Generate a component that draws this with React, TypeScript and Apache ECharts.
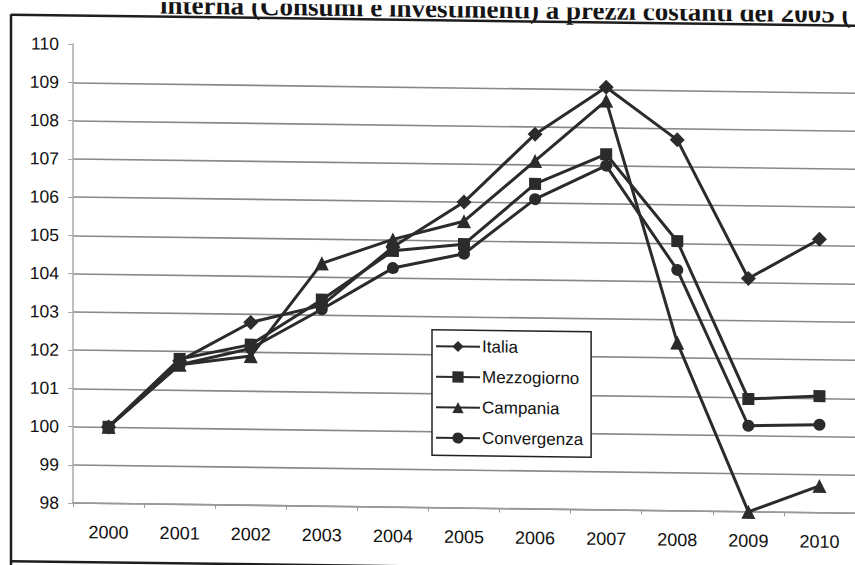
import React, { useEffect, useRef } from "react";
import * as echarts from "echarts";

const years = ["2000", "2001", "2002", "2003", "2004", "2005", "2006", "2007", "2008", "2009", "2010"];
const italia = [100, 101.75, 102.78, 103.25, 104.8, 106.0, 107.8, 109.05, 107.7, 104.1, 105.15];
const mezzogiorno = [100, 101.8, 102.2, 103.4, 104.7, 104.9, 106.5, 107.3, 105.05, 100.95, 101.05];
const campania = [100, 101.65, 101.9, 104.35, 105.0, 105.5, 107.1, 108.7, 102.4, 98.0, 98.7];
const convergenza = [100, 101.65, 102.1, 103.15, 104.25, 104.65, 106.1, 107.0, 104.3, 100.25, 100.3];
const seriesNames = ["Italia", "Mezzogiorno", "Campania", "Convergenza"];
const seriesSymbols = ["diamond", "rect", "triangle", "circle"];
const titleLeft = "interna";
const titleRight = "(Consumi e investimenti) a prezzi costanti del 2005 (";

export default function App() {
  const ref = useRef<HTMLDivElement>(null);
  useEffect(() => {
    if (!ref.current) return;
    const chart = echarts.init(ref.current, null, { renderer: "svg" });
    const dataSets = [italia, mezzogiorno, campania, convergenza];
    const symbolSizes = [15, 12, 14, 12];
    const ink = "#2b2b2b";
    const gridColors: string[] = [];
    for (let i = 0; i < 13; i++) gridColors.push(i === 12 ? "transparent" : "#888888");
    chart.setOption({
      animation: false,
      backgroundColor: "#ffffff",
      textStyle: { fontFamily: "Liberation Sans, Arial, sans-serif" },
      grid: { left: 73, top: 43, width: 793, height: 459, containLabel: false },
      legend: {
        orient: "vertical",
        left: 432,
        top: 324,
        data: seriesNames,
        backgroundColor: "#ffffff",
        borderColor: "#222",
        borderWidth: 1.5,
        borderRadius: 0,
        padding: [8, 8, 9, 3],
        itemGap: 13.5,
        itemWidth: 44,
        itemHeight: 14,
        textStyle: { fontSize: 17, color: "#111", padding: [0, 0, 0, -3] },
      },
      xAxis: {
        type: "category",
        data: years,
        boundaryGap: true,
        axisLine: { lineStyle: { color: "#999", width: 1.5 } },
        axisTick: { show: true, length: 4, lineStyle: { color: "#999" } },
        axisLabel: { fontSize: 18, color: "#111", margin: 20 },
        splitLine: { show: false },
      },
      yAxis: {
        type: "value",
        min: 98,
        max: 110,
        interval: 1,
        axisLine: { show: true, lineStyle: { color: "#aaa", width: 1.5 } },
        axisTick: { show: true, length: 5, lineStyle: { color: "#aaa" } },
        axisLabel: { fontSize: 17.5, color: "#111", margin: 14 },
        splitLine: { show: true, lineStyle: { color: gridColors, width: 1.6 } },
      },
      series: seriesNames.map((name, i) => ({
        name,
        type: "line",
        data: dataSets[i],
        symbol: seriesSymbols[i],
        symbolSize: symbolSizes[i],
        clip: false,
        lineStyle: { color: ink, width: 3 },
        itemStyle: { color: ink },
        z: 10 - i,
      })),
      graphic: [
        {
          type: "text",
          x: 244,
          y: 16,
          style: {
            text: titleLeft,
            font: 'bold 27px "Liberation Serif", serif',
            fill: "#151515",
            textAlign: "right",
            textVerticalAlign: "bottom",
          },
        },
        {
          type: "text",
          x: 251,
          y: 16,
          style: {
            text: titleRight,
            font: 'bold 27px "Liberation Serif", serif',
            fill: "#151515",
            textAlign: "left",
            textVerticalAlign: "bottom",
          },
        },
        { type: "line", shape: { x1: 11, y1: 14.5, x2: 900, y2: 14.5 }, style: { stroke: "#1e1e1e", lineWidth: 2.5 } },
        { type: "line", shape: { x1: 11, y1: 14, x2: 11, y2: 600 }, style: { stroke: "#1e1e1e", lineWidth: 2.5 } },
        { type: "line", shape: { x1: 11, y1: 561, x2: 900, y2: 561 }, style: { stroke: "#1e1e1e", lineWidth: 2.5 } },
      ],
    });
    return () => chart.dispose();
  }, []);
  return (
    <div
      ref={ref}
      style={{
        position: "absolute",
        left: 0,
        top: 0,
        width: 855,
        height: 565,
        transform: "skewY(0.75deg)",
        transformOrigin: "0 0",
        background: "#fff",
      }}
    />
  );
}
